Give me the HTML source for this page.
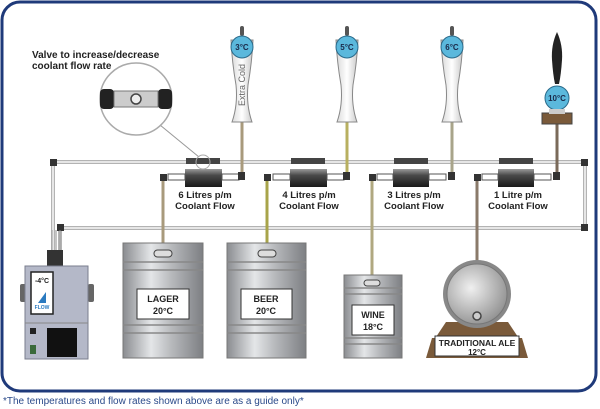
<!DOCTYPE html>
<html><head><meta charset="utf-8"><style>
html,body{margin:0;padding:0;background:#fff;}
svg{display:block;font-family:"Liberation Sans",sans-serif;}
</style></head><body>
<svg width="600" height="409" viewBox="0 0 600 409" xmlns="http://www.w3.org/2000/svg">
<defs>
<linearGradient id="steel" x1="0" x2="1" y1="0" y2="0">
<stop offset="0" stop-color="#8a8c90"/><stop offset="0.35" stop-color="#e4e6e8"/><stop offset="0.6" stop-color="#b8babd"/><stop offset="1" stop-color="#7d7f83"/></linearGradient>
<linearGradient id="cyl" x1="0" x2="0" y1="0" y2="1">
<stop offset="0" stop-color="#9a9a9a"/><stop offset="0.35" stop-color="#4a4a4a"/><stop offset="1" stop-color="#1a1a1a"/></linearGradient>
<radialGradient id="barrel" cx="0.4" cy="0.4" r="0.7"><stop offset="0" stop-color="#f0f0f0"/><stop offset="1" stop-color="#8a8a8a"/></radialGradient>
<linearGradient id="tap" x1="0" x2="1"><stop offset="0" stop-color="#d8d8d8"/><stop offset="0.5" stop-color="#ffffff"/><stop offset="1" stop-color="#c8c8c8"/></linearGradient>
</defs>
<rect x="2" y="2" width="594" height="389" rx="18" fill="#fff" stroke="#1f3a7a" stroke-width="3"/>
<text x="3" y="404" font-size="10" fill="#2a4a8a">*The temperatures and flow rates shown above are as a guide only*</text>

<!-- pipes -->
<g fill="none" stroke="#9a9a9a" stroke-width="3.5"><path d="M53 260 V162 H585 V228 H60 V262"/></g>
<g fill="none" stroke="#fff" stroke-width="1.5"><path d="M53 260 V162 H585 V228 H60 V262"/></g>
<g fill="#333"><rect x="50" y="159" width="7" height="7"/><rect x="581" y="159" width="7" height="7"/><rect x="581" y="224" width="7" height="7"/><rect x="57" y="224" width="7" height="7"/></g>
<!-- cooler lines -->
<g stroke="#888" stroke-width="1"><line x1="52" y1="230" x2="52" y2="250"/><line x1="56" y1="230" x2="56" y2="250"/><line x1="60" y1="230" x2="60" y2="250"/></g>

<!-- product lines -->
<g stroke-width="3">
<line x1="163" y1="178" x2="163" y2="245" stroke="#a89a7c"/>
<line x1="267" y1="178" x2="267" y2="245" stroke="#a8a44a"/>
<line x1="372" y1="178" x2="372" y2="278" stroke="#b0a880"/>
<line x1="477" y1="178" x2="477" y2="300" stroke="#8a7a6a"/>
<line x1="242" y1="118" x2="242" y2="175" stroke="#a89a7c"/>
<line x1="347" y1="118" x2="347" y2="175" stroke="#b8b060"/>
<line x1="452" y1="118" x2="452" y2="175" stroke="#a8a48a"/>
<line x1="557" y1="122" x2="557" y2="175" stroke="#7a6a5a"/>
</g>

<!-- coolers -->
<g id="c">
</g>
<g>
<!-- 1 -->
<rect x="185" y="169" width="37" height="18" fill="url(#cyl)"/>
<rect x="168" y="174" width="17" height="6" fill="#fff" stroke="#555" stroke-width="1"/>
<rect x="222" y="174" width="17" height="6" fill="#fff" stroke="#555" stroke-width="1"/>
<rect x="160" y="174" width="7" height="7" fill="#333"/><rect x="238" y="172" width="7" height="8" fill="#333"/>
<rect x="186" y="158" width="34" height="6" fill="#444"/>
<text x="205" y="198" font-size="9.5" font-weight="bold" fill="#222" text-anchor="middle">6 Litres p/m</text>
<text x="205" y="209" font-size="9.5" font-weight="bold" fill="#222" text-anchor="middle">Coolant Flow</text>
<!-- 2 -->
<rect x="290" y="169" width="37" height="18" fill="url(#cyl)"/>
<rect x="273" y="174" width="17" height="6" fill="#fff" stroke="#555"/>
<rect x="327" y="174" width="17" height="6" fill="#fff" stroke="#555"/>
<rect x="264" y="174" width="7" height="7" fill="#333"/><rect x="343" y="172" width="7" height="8" fill="#333"/>
<rect x="291" y="158" width="34" height="6" fill="#444"/>
<text x="309" y="198" font-size="9.5" font-weight="bold" fill="#222" text-anchor="middle">4 Litres p/m</text>
<text x="309" y="209" font-size="9.5" font-weight="bold" fill="#222" text-anchor="middle">Coolant Flow</text>
<!-- 3 -->
<rect x="393" y="169" width="36" height="18" fill="url(#cyl)"/>
<rect x="377" y="174" width="16" height="6" fill="#fff" stroke="#555"/>
<rect x="429" y="174" width="17" height="6" fill="#fff" stroke="#555"/>
<rect x="369" y="174" width="7" height="7" fill="#333"/><rect x="448" y="172" width="7" height="8" fill="#333"/>
<rect x="394" y="158" width="34" height="6" fill="#444"/>
<text x="414" y="198" font-size="9.5" font-weight="bold" fill="#222" text-anchor="middle">3 Litres p/m</text>
<text x="414" y="209" font-size="9.5" font-weight="bold" fill="#222" text-anchor="middle">Coolant Flow</text>
<!-- 4 -->
<rect x="498" y="169" width="36" height="18" fill="url(#cyl)"/>
<rect x="482" y="174" width="16" height="6" fill="#fff" stroke="#555"/>
<rect x="534" y="174" width="17" height="6" fill="#fff" stroke="#555"/>
<rect x="474" y="174" width="7" height="7" fill="#333"/><rect x="553" y="172" width="7" height="8" fill="#333"/>
<rect x="499" y="158" width="34" height="6" fill="#444"/>
<text x="518" y="198" font-size="9.5" font-weight="bold" fill="#222" text-anchor="middle">1 Litre p/m</text>
<text x="518" y="209" font-size="9.5" font-weight="bold" fill="#222" text-anchor="middle">Coolant Flow</text>
</g>

<!-- magnifier -->
<line x1="160" y1="125" x2="199" y2="157" stroke="#999" stroke-width="1"/>
<circle cx="203" cy="162" r="7" fill="none" stroke="#aaa"/>
<circle cx="136" cy="99" r="36" fill="#fff" stroke="#aaa" stroke-width="1.5"/>
<rect x="100" y="89" width="14" height="20" rx="4" fill="#222"/>
<rect x="158" y="89" width="14" height="20" rx="4" fill="#222"/>
<rect x="114" y="91" width="44" height="16" fill="#ccc" stroke="#777"/>
<circle cx="136" cy="99" r="5" fill="#eee" stroke="#444" stroke-width="1.5"/>
<text x="32" y="58" font-size="10" font-weight="bold" fill="#222">Valve to increase/decrease</text>
<text x="32" y="69" font-size="10" font-weight="bold" fill="#222">coolant flow rate</text>

<!-- taps -->
<g stroke="#888" stroke-width="1" fill="url(#tap)">
<path d="M231 40 Q232 62 236 85 Q238 105 232 122 H252 Q246 105 248 85 Q252 62 253 40 Z"/>
<path d="M336 40 Q337 62 341 85 Q343 105 337 122 H357 Q351 105 353 85 Q357 62 358 40 Z"/>
<path d="M441 40 Q442 62 446 85 Q448 105 442 122 H462 Q456 105 458 85 Q462 62 463 40 Z"/>
</g>
<g fill="#555"><rect x="240" y="26" width="4" height="10" rx="2"/><rect x="345" y="26" width="4" height="10" rx="2"/><rect x="450" y="26" width="4" height="10" rx="2"/></g>
<g fill="#5bb8dc" stroke="#2a6a8a" stroke-width="1">
<circle cx="242" cy="47" r="11"/><circle cx="347" cy="47" r="11"/><circle cx="452" cy="47" r="11"/><circle cx="557" cy="98" r="12"/>
</g>
<g font-size="8" font-weight="bold" fill="#1a2a4a" text-anchor="middle">
<text x="242" y="50">3°C</text><text x="347" y="50">5°C</text><text x="452" y="50">6°C</text><text x="557" y="101">10°C</text>
</g>
<text x="245" y="106" font-size="9" fill="#666" transform="rotate(-90 245 106)">Extra Cold</text>
<!-- handpump -->
<path d="M557 32 Q551 45 552 60 Q553 75 555 84 H559 Q561 75 562 60 Q563 45 557 32 Z" fill="#222"/>
<rect x="542" y="113" width="30" height="11" fill="#7a5a3a" stroke="#444"/>
<rect x="549" y="109" width="16" height="5" fill="#ccc"/>

<!-- cooler unit -->
<rect x="47" y="250" width="16" height="17" fill="#333"/>
<rect x="20" y="284" width="6" height="18" rx="2" fill="#666"/>
<rect x="88" y="284" width="6" height="18" rx="2" fill="#666"/>
<rect x="25" y="266" width="63" height="93" fill="#b4b8c8" stroke="#7a7e8e"/>
<rect x="31" y="272" width="22" height="42" fill="#fff" stroke="#222" stroke-width="1.5"/>
<text x="42" y="283" font-size="7" font-weight="bold" text-anchor="middle" fill="#222">-4°C</text>
<path d="M38 303 L46 292 L46 303 Z" fill="#2a7ac0"/>
<text x="42" y="309" font-size="5" font-weight="bold" text-anchor="middle" fill="#2a7ac0">FLOW</text>
<line x1="25" y1="323" x2="88" y2="323" stroke="#888"/>
<rect x="47" y="328" width="30" height="29" fill="#111"/>
<rect x="30" y="328" width="6" height="6" fill="#222"/>
<rect x="30" y="345" width="6" height="9" fill="#3a6a3a"/>

<!-- kegs -->
<g stroke="#777" stroke-width="1">
<rect x="123" y="243" width="80" height="115" fill="url(#steel)"/>
<rect x="227" y="243" width="79" height="115" fill="url(#steel)"/>
<rect x="344" y="275" width="58" height="83" fill="url(#steel)"/>
</g>
<g stroke="#888" stroke-width="1.5" fill="none">
<line x1="123" y1="262" x2="203" y2="262"/><line x1="123" y1="270" x2="203" y2="270"/><line x1="123" y1="325" x2="203" y2="325"/><line x1="123" y1="333" x2="203" y2="333"/>
<line x1="227" y1="262" x2="306" y2="262"/><line x1="227" y1="270" x2="306" y2="270"/><line x1="227" y1="325" x2="306" y2="325"/><line x1="227" y1="333" x2="306" y2="333"/>
<line x1="344" y1="288" x2="402" y2="288"/><line x1="344" y1="294" x2="402" y2="294"/><line x1="344" y1="338" x2="402" y2="338"/><line x1="344" y1="344" x2="402" y2="344"/>
</g>
<g fill="#ddd" stroke="#444"><rect x="154" y="250" width="18" height="7" rx="3.5"/><rect x="258" y="250" width="18" height="7" rx="3.5"/><rect x="364" y="280" width="16" height="6" rx="3"/></g>
<g fill="#fff" stroke="#333"><rect x="137" y="289" width="52" height="30"/><rect x="241" y="289" width="51" height="30"/><rect x="352" y="305" width="42" height="30"/></g>
<g font-size="9" font-weight="bold" fill="#222" text-anchor="middle">
<text x="163" y="302">LAGER</text><text x="163" y="314">20°C</text>
<text x="266" y="302">BEER</text><text x="266" y="314">20°C</text>
<text x="373" y="318">WINE</text><text x="373" y="330">18°C</text>
</g>
<!-- barrel -->
<path d="M446 322 L434 340 H520 L508 322 Z" fill="#7a5a3a"/>
<circle cx="477" cy="294" r="34" fill="#888"/>
<circle cx="477" cy="294" r="30" fill="url(#barrel)" stroke="#777"/>
<circle cx="477" cy="316" r="4" fill="#ccc" stroke="#444" stroke-width="1.5"/>
<path d="M432 338 L426 358 H528 L522 338 Z" fill="#7a5a3a"/>
<rect x="435" y="336" width="84" height="20" fill="#fff" stroke="#333"/>
<text x="477" y="346" font-size="8.5" font-weight="bold" fill="#222" text-anchor="middle">TRADITIONAL ALE</text>
<text x="477" y="355" font-size="8" font-weight="bold" fill="#222" text-anchor="middle">12°C</text>
</svg>
</body></html>
